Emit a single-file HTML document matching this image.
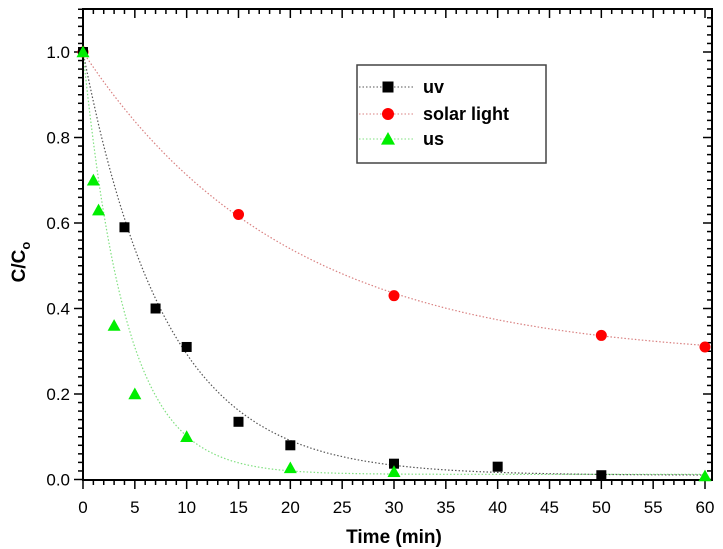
<!DOCTYPE html>
<html><head><meta charset="utf-8"><style>
body{margin:0;background:#fff;}
svg{display:block;font-family:"Liberation Sans",Arial,sans-serif;}
</style></head><body>
<svg id="chart" width="723" height="549" viewBox="0 0 723 549" xmlns="http://www.w3.org/2000/svg">
</svg>
<script>
const uvT=[0,4,7,10,15,20,30,40,50];
const uvC=[1,0.59,0.40,0.31,0.135,0.08,0.037,0.03,0.01];
const solarT=[0,15,30,50,60];
const solarC=[1,0.62,0.43,0.337,0.31];
const usT=[0,1,1.5,3,5,10,20,30,60];
const usC=[1,0.70,0.63,0.36,0.20,0.10,0.027,0.018,0.008];
const uvFit=[0.01,0.99,0.125];
const solarFit=[0.28,0.72,0.051];
const usFit=[0.012,0.988,0.24];
const xTicks=[0,5,10,15,20,25,30,35,40,45,50,55,60];
const yTicks=["0.0","0.2","0.4","0.6","0.8","1.0"];

const NS="http://www.w3.org/2000/svg";
const svg=document.getElementById('chart');
const L=83,R=712,T=9,B=480;
const X=v=>83+v*(705-83)/60;
const Y=v=>479.5-v*(479.5-52)/1.0;
function mk(tag,at,parent){const e=document.createElementNS(NS,tag);for(const k in at)e.setAttribute(k,at[k]);(parent||svg).appendChild(e);return e;}

function curve(p,color,name){
  let d="";for(let t=0;t<=60;t+=0.25){const v=p[0]+p[1]*Math.exp(-p[2]*t);d+=(t?"L":"M")+X(t).toFixed(1)+","+Y(v).toFixed(1);}
  const e=mk('path',{d:d,fill:'none',stroke:color,'stroke-width':1.2,'stroke-dasharray':'1.5,2'});
  
  
}
curve(solarFit,'#d98080','solar-fit-curve');
curve(uvFit,'#555','uv-fit-curve');
curve(usFit,'#80e080','us-fit-curve');

const fr=mk('rect',{x:L,y:T,width:R-L,height:B-T,fill:'none',stroke:'#000','stroke-width':2});



for(let i=0;i<=61;i++){
  const x=X(i); if(x>R)break;
  const major=i%5===0;
  mk('line',{x1:x,x2:x,y1:B,y2:B+(major?9:5),stroke:'#000','stroke-width':1.5});
  mk('line',{x1:x,x2:x,y1:T,y2:T+(major?9:5),stroke:'#000','stroke-width':1.5});
}
xTicks.forEach(v=>{
  const t=mk('text',{x:X(v),y:513,'text-anchor':'middle','font-size':17});
  t.textContent=v;
  
  
});
for(let i=0;i<=55;i++){
  const v=i*0.02,y=Y(v); if(y<T)break;
  const major=i%10===0;
  mk('line',{x1:L,x2:L-(major?9:5),y1:y,y2:y,stroke:'#000','stroke-width':1.5});
  mk('line',{x1:R,x2:R-(major?9:5),y1:y,y2:y,stroke:'#000','stroke-width':1.5});
}
yTicks.forEach(s=>{
  const t=mk('text',{x:70,y:Y(parseFloat(s))+6,'text-anchor':'end','font-size':17});
  t.textContent=s;
  
  
});

function square(x,y,s,c){return mk('rect',{x:x-s,y:y-s,width:2*s,height:2*s,fill:c});}
function circle(x,y,r,c){return mk('circle',{cx:x,cy:y,r:r,fill:c});}
function tri(x,y,s,c){return mk('polygon',{points:`${x},${y-s} ${x-s},${y+s*0.8} ${x+s},${y+s*0.8}`,fill:c});}
solarT.forEach((t,i)=>{const e=circle(X(t),Y(solarC[i]),5.5,'#ff0000');});
uvT.forEach((t,i)=>{const e=square(X(t),Y(uvC[i]),5,'#000');});
usT.forEach((t,i)=>{const e=tri(X(t),Y(usC[i]),6.5,'#00ee00');});

const lg=mk('g',{});


mk('rect',{x:357,y:65,width:189,height:98,fill:'#fff',stroke:'#444','stroke-width':1.5},lg);
const ents=[['uv','#555','sq',87],['solar light','#d98080','ci',114],['us','#80e080','tr',139]];
ents.forEach(e=>{
  mk('line',{x1:359,x2:414,y1:e[3],y2:e[3],stroke:e[1],'stroke-width':1,'stroke-dasharray':'1.5,2'},lg);
  let m;
  if(e[2]==='sq'){m=square(388,e[3],5.5,'#000');}
  else if(e[2]==='ci'){m=circle(388,e[3],6,'#ff0000');}
  else {m=tri(388,e[3],7,'#00ee00');}
  lg.appendChild(m);
  const t=mk('text',{x:423,y:e[3]+6,'font-size':18,'font-weight':'bold'},lg);
  t.textContent=e[0];
  
  
});

const xt=mk('text',{x:394,y:543,'text-anchor':'middle','font-size':19,'font-weight':'bold'});
xt.textContent='Time (min)';


const yt=mk('text',{x:0,y:0,'text-anchor':'middle','font-size':19,'font-weight':'bold',transform:'translate(25,262) rotate(-90)'});
yt.innerHTML='C/C<tspan font-size="13" dy="5">o</tspan>';


</script>
</body></html>
